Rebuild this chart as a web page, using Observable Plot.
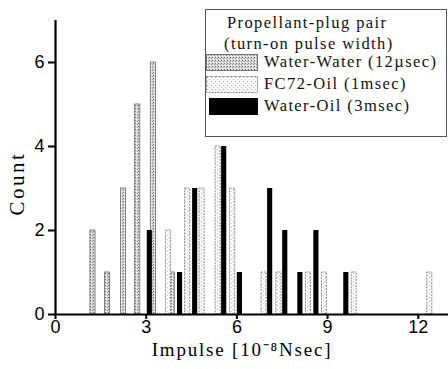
<!DOCTYPE html>
<html><head><meta charset="utf-8">
<script src="https://cdn.jsdelivr.net/npm/d3@7"></script>
<script src="https://cdn.jsdelivr.net/npm/@observablehq/plot@0.6"></script>
<style>
body{margin:0;background:#fff;}
#wrap{position:relative;width:448px;height:369px;overflow:hidden;}
.leg{position:absolute;left:205px;top:9px;width:242px;height:128px;border:1px solid #555;box-sizing:border-box;font-family:"Liberation Serif","Times New Roman",serif;font-size:16.5px;color:#111;letter-spacing:1.4px;background:#fff;}
.leg .t{position:absolute;white-space:nowrap;line-height:1;}
.leg svg{position:absolute;}
</style>
</head><body>
<div id="wrap"></div>
<script>
// ---- data (impulse in 10^-8 Nsec, counts) ----
const seriesNames = ["Water-Water (12µsec)", "FC72-Oil (1msec)", "Water-Oil (3msec)"];
const legendTitle = ["Propellant-plug pair", "(turn-on pulse width)"];
const wwImpulse = [1.24, 1.72, 2.25, 2.72, 3.24, 3.86];
const wwCount   = [2, 1, 3, 5, 6, 1];
const fcImpulse = [3.74, 4.37, 4.85, 5.38, 5.86, 6.90, 7.39, 8.37, 8.90, 9.88, 12.38];
const fcCount   = [2, 3, 3, 4, 3, 1, 1, 1, 1, 1, 1];
const woImpulse = [3.12, 4.12, 4.62, 5.58, 6.10, 7.10, 7.60, 8.10, 8.63, 9.62];
const woCount   = [2, 1, 3, 4, 1, 3, 2, 1, 2, 1];
const xTicks = [0, 3, 6, 9, 12];
const yTicks = [0, 2, 4, 6];
const xLabel = "Impulse [10⁻⁸Nsec]";
const yLabel = "Count";

const halfW = 0.085;
const rows = (xs, cs) => xs.map((x, i) => ({x1: x - halfW, x2: x + halfW, count: cs[i]}));
const ww = rows(wwImpulse, wwCount);
const fc = rows(fcImpulse, fcCount);
const wo = rows(woImpulse, woCount);

const chart = Plot.plot({
  width: 448, height: 369,
  marginLeft: 55, marginRight: 0, marginTop: 20, marginBottom: 55,
  style: {fontFamily: "'Liberation Sans', Arial, sans-serif", fontSize: "18px", color: "#000", background: "#fff"},
  x: {domain: [0, 13]},
  y: {domain: [0, 7]},
  marks: [
    Plot.rectY(ww, {x1: "x1", x2: "x2", y: "count", fill: "url(#pww)", stroke: "#777", strokeWidth: 0.9}),
    Plot.rectY(fc, {x1: "x1", x2: "x2", y: "count", fill: "url(#pfc)", stroke: "#888", strokeWidth: 0.9, strokeDasharray: "2,1"}),
    Plot.rectY(wo, {x1: "x1", x2: "x2", y: "count", fill: "#000"}),
    Plot.ruleY([0], {strokeWidth: 2.2, stroke: "#000"}),
    Plot.ruleX([0], {strokeWidth: 2.2, stroke: "#000"}),
    Plot.axisX({ticks: xTicks, tickFormat: "d", tickSize: 5, tickPadding: 1, strokeWidth: 2, label: null}),
    Plot.axisY({ticks: yTicks, tickFormat: "d", tickSize: 7, tickPadding: 4, strokeWidth: 2, label: null}),
    Plot.text([xLabel], {frameAnchor: "bottom", dy: 41, dx: -10, fontFamily: "'Liberation Serif', serif", fontSize: 19}),
    Plot.text([yLabel], {frameAnchor: "left", textAnchor: "middle", rotate: -90, dx: -38, dy: 16, fontFamily: "'Liberation Serif', serif", fontSize: 21})
  ]
});

// letter spacing on the axis titles
d3.select(chart).selectAll("text").filter(function() { return this.textContent === xLabel; }).style("letter-spacing", "1.8px");
d3.select(chart).selectAll("text").filter(function() { return this.textContent === yLabel; }).style("letter-spacing", "2.5px");

// patterns
const defs = d3.select(chart).insert("defs", ":first-child");
const p1 = defs.append("pattern").attr("id", "pww").attr("patternUnits", "userSpaceOnUse").attr("width", 3).attr("height", 3);
p1.append("rect").attr("width", 3).attr("height", 3).attr("fill", "#d6d6d6");
p1.append("rect").attr("x", 0).attr("y", 0).attr("width", 1).attr("height", 1).attr("fill", "#777");
p1.append("rect").attr("x", 2).attr("y", 1).attr("width", 1).attr("height", 1).attr("fill", "#999");
p1.append("rect").attr("x", 1).attr("y", 2).attr("width", 1).attr("height", 1).attr("fill", "#fff");
const p2 = defs.append("pattern").attr("id", "pfc").attr("patternUnits", "userSpaceOnUse").attr("width", 4).attr("height", 4);
p2.append("rect").attr("width", 4).attr("height", 4).attr("fill", "#fafafa");
p2.append("rect").attr("x", 1).attr("y", 1).attr("width", 1).attr("height", 1).attr("fill", "#aaa");
p2.append("rect").attr("x", 3).attr("y", 3).attr("width", 1).attr("height", 1).attr("fill", "#ccc");

const wrap = document.getElementById("wrap");
wrap.appendChild(chart);

// legend (inside plot area, top-right)
const leg = document.createElement("div");
leg.className = "leg";
const swatchStyles = [
  {fill: "url(#pww)", stroke: "#777", dash: null},
  {fill: "url(#pfc)", stroke: "#888", dash: "2,1"},
  {fill: "#000", stroke: "#000", dash: null}
];
let html = "";
html += `<div class="t" style="left:21px;top:5px">${legendTitle[0]}</div>`;
html += `<div class="t" style="left:18px;top:26px">${legendTitle[1]}</div>`;
seriesNames.forEach((name, i) => {
  const top = 44 + i * 22;
  const s = swatchStyles[i];
  html += `<svg width="52" height="17" style="left:${i===2?3:0}px;top:${top}px"><rect x="0.5" y="0.5" width="${i===2?48:51}" height="16" fill="${s.fill}" stroke="${s.stroke}" ${s.dash ? `stroke-dasharray="${s.dash}"` : ""}/></svg>`;
  html += `<div class="t" style="left:58px;top:${top}px">${name}</div>`;
});
leg.innerHTML = html;
wrap.appendChild(leg);
</script>
</body></html>
